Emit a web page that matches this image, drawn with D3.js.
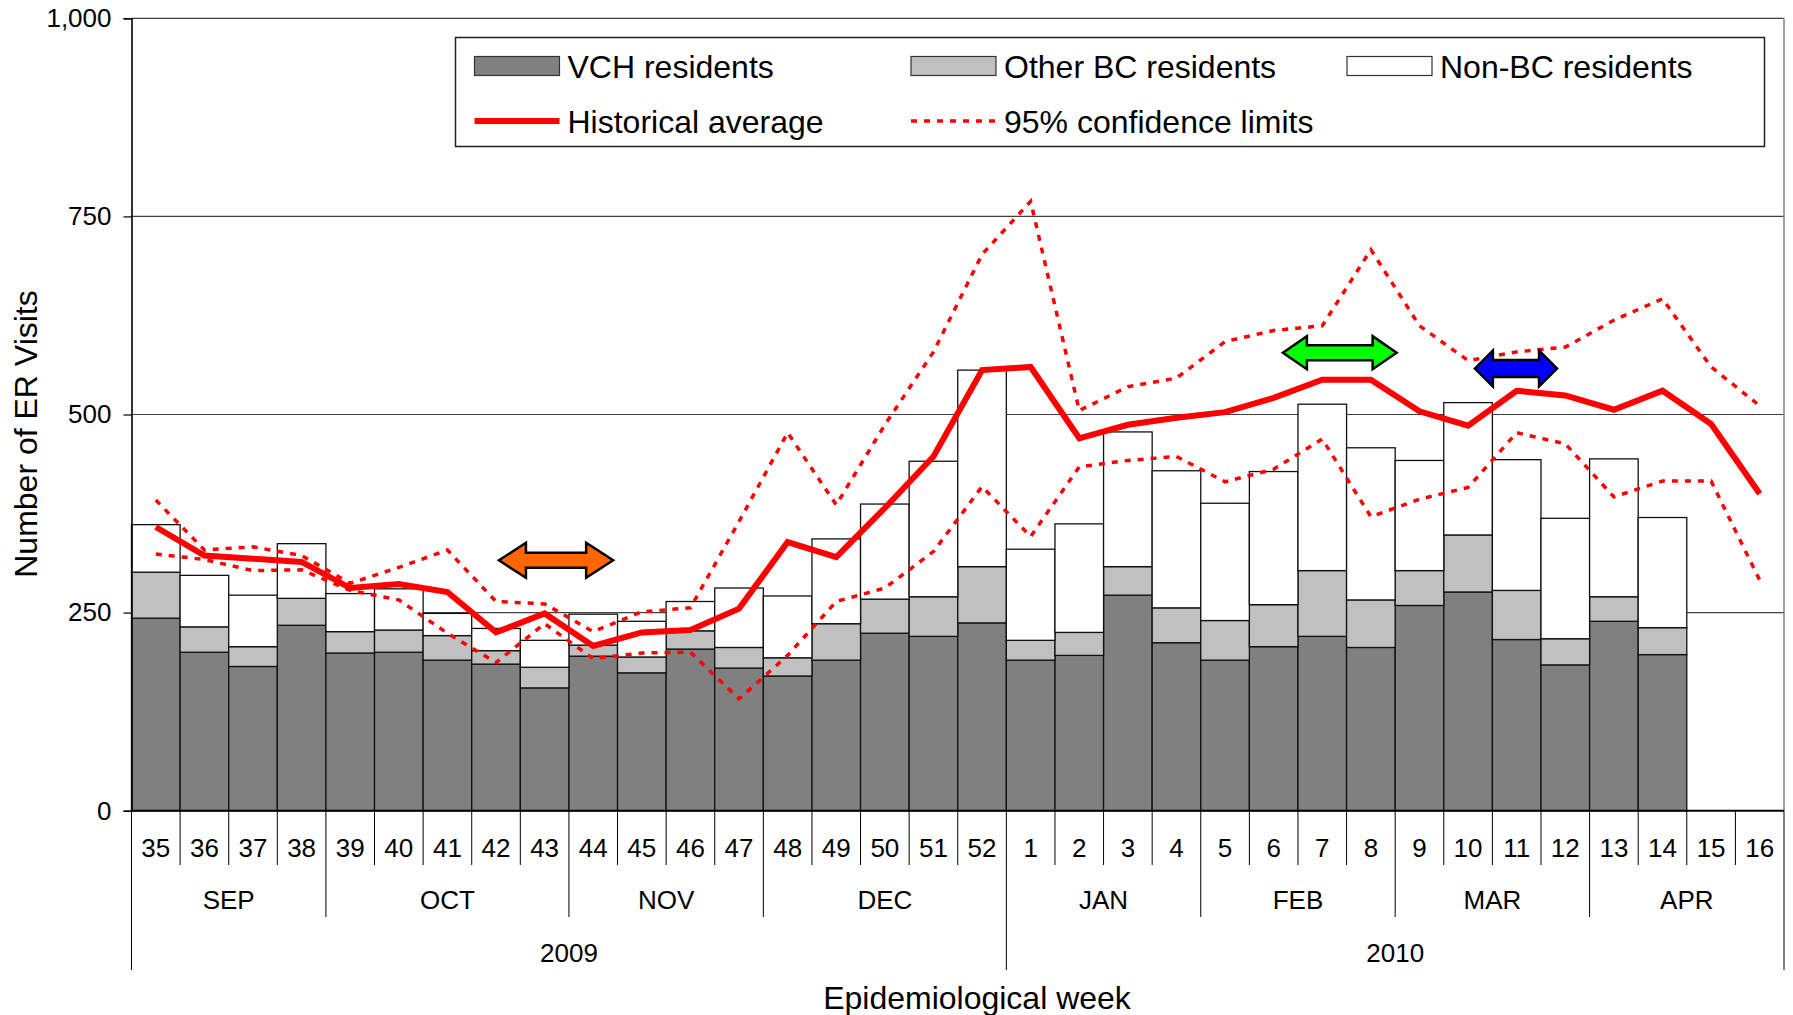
<!DOCTYPE html>
<html><head><meta charset="utf-8">
<script src="https://cdn.jsdelivr.net/npm/d3@7"></script>
<style>
body{margin:0;background:#fff}
text{font-family:"Liberation Sans",Arial,Helvetica,sans-serif;fill:#000}
</style>
</head><body>
<svg id="c" width="1793" height="1015"></svg>
<script>
// ---------- data ----------
const weeks = ["35","36","37","38","39","40","41","42","43","44","45","46","47","48","49","50","51","52",
               "1","2","3","4","5","6","7","8","9","10","11","12","13","14","15","16"];
const vchResidents = [243,200,182,234,199,200,190,185,155,195,174,204,180,170,190,224,220,237,
                      190,196,272,212,190,207,220,206,259,276,216,184,239,197,null,null];
const otherBCResidents = [58,32,25,34,27,28,31,17,26,14,20,23,26,23,46,43,50,71,
                          25,29,36,44,50,53,83,60,44,72,62,33,31,34,null,null];
const nonBCResidents = [60,65,65,69,48,52,28,28,34,39,45,37,75,78,107,120,171,248,
                        115,137,170,173,148,168,210,192,139,167,165,152,174,139,null,null];
const historicalAverage = [358,322,318,314,281,286,276,225,249,208,225,228,255,339,320,382,447,556,
                           560,470,487,496,503,521,544,544,504,486,530,524,506,530,488,400];
const upperLimit = [392,329,333,322,287,307,329,264,261,226,251,256,365,477,386,487,579,702,
                    769,505,535,546,592,606,612,708,612,568,579,585,619,646,560,511];
const lowerLimit = [324,317,303,304,278,266,224,187,236,192,199,200,141,196,264,281,327,409,
                    346,434,442,447,415,431,469,371,393,408,477,463,396,416,416,291];
const months = ["SEP","OCT","NOV","DEC","JAN","FEB","MAR","APR"];
const monthSpans = [4,5,4,5,4,4,4,4];
const years = ["2009","2010"];
const yearSpans = [18,16];
const yTicks = [0,250,500,750,1000];
// annotation arrows: start/end in week-band units, level in ER visits
const arrowNames = ["orange","green","blue"];
const arrowStart = [7.56,23.69,27.64];
const arrowEnd = [9.91,26.03,29.33];
const arrowLevel = [316,578,558];
const arrowColors = ["#FF6600","#00FF00","#0000FF"];
const arrowHead = [27,24,18];
const arrowHeight = [35,33,36];
const arrowShaft = [15,15,17];

// ---------- layout ----------
const L = 131.5, R = 1784, T = 18.3, B = 810.7;
const svg = d3.select("#c");

const x = d3.scaleBand().domain(d3.range(weeks.length)).range([L, R]).padding(0);
const xu = d3.scaleLinear().domain([0, weeks.length]).range([L, R]);
const y = d3.scaleLinear().domain([0, 1000]).range([B, T]);
const bw = x.bandwidth();
const cx = i => x(i) + bw / 2;

// gridlines
svg.append("g").selectAll("line").data(yTicks.filter(d => d > 0)).join("line")
  .attr("x1", L).attr("x2", R).attr("y1", d => y(d)).attr("y2", d => y(d))
  .attr("stroke", "#404040").attr("stroke-width", 1.2);

// stacked bars
const rows = weeks.map((w, i) => ({i, vch: vchResidents[i], other: otherBCResidents[i], non: nonBCResidents[i]}))
  .filter(r => r.vch != null);
const keys = ["vch", "other", "non"];
const fills = {vch: "#808080", other: "#C0C0C0", non: "#FFFFFF"};
const stacked = d3.stack().keys(keys)(rows);
svg.append("g").selectAll("g").data(stacked).join("g")
  .attr("fill", d => fills[d.key])
  .selectAll("rect").data(d => d).join("rect")
  .attr("x", d => x(d.data.i)).attr("width", bw)
  .attr("y", d => y(d[1])).attr("height", d => y(d[0]) - y(d[1]))
  .attr("stroke", "#111").attr("stroke-width", 1.3);

// right border of plot area
svg.append("line").attr("x1", R).attr("x2", R).attr("y1", T).attr("y2", B)
  .attr("stroke", "#808080").attr("stroke-width", 1.5);

// y axis
const yAxis = d3.axisLeft(y).tickValues(yTicks).tickFormat(d3.format(",")).tickSize(8).tickPadding(12);
const gy = svg.append("g").attr("transform", `translate(${L},0)`).call(yAxis);
gy.select(".domain").attr("stroke", "#000").attr("stroke-width", 1.6);
gy.selectAll(".tick line").attr("stroke", "#000").attr("stroke-width", 1.2);
gy.selectAll(".tick text").attr("font-size", 26).attr("font-family", "Liberation Sans, Arial, sans-serif").attr("fill", "#000");

// x baseline
svg.append("line").attr("x1", L).attr("x2", R).attr("y1", B).attr("y2", B)
  .attr("stroke", "#000").attr("stroke-width", 2);

// multi-level category axis
const gx = svg.append("g");
const monthBounds = [0, ...d3.cumsum(monthSpans)];
const yearBounds = [0, ...d3.cumsum(yearSpans)];
const weekRowY = 865, monthRowY = 917, yearRowY = 970;
d3.range(weeks.length + 1).forEach(k => {
  let yEnd = weekRowY;
  if (monthBounds.includes(k)) yEnd = monthRowY;
  if (yearBounds.includes(k)) yEnd = yearRowY;
  gx.append("line").attr("x1", xu(k)).attr("x2", xu(k)).attr("y1", B).attr("y2", yEnd)
    .attr("stroke", "#000").attr("stroke-width", 1);
});
gx.selectAll("text.wk").data(weeks).join("text").attr("class", "wk")
  .attr("x", (d, i) => cx(i)).attr("y", 848).attr("dy", "0.36em")
  .attr("text-anchor", "middle").attr("font-size", 26).text(d => d);
gx.selectAll("text.mo").data(months).join("text").attr("class", "mo")
  .attr("x", (d, i) => (xu(monthBounds[i]) + xu(monthBounds[i + 1])) / 2).attr("y", 900).attr("dy", "0.36em")
  .attr("text-anchor", "middle").attr("font-size", 26).text(d => d);
gx.selectAll("text.yr").data(years).join("text").attr("class", "yr")
  .attr("x", (d, i) => (xu(yearBounds[i]) + xu(yearBounds[i + 1])) / 2).attr("y", 953).attr("dy", "0.36em")
  .attr("text-anchor", "middle").attr("font-size", 26).text(d => d);

// axis titles
svg.append("text").attr("x", 977).attr("y", 997).attr("dy", "0.36em").attr("text-anchor", "middle")
  .attr("font-size", 32).text("Epidemiological week");
svg.append("text").attr("transform", "translate(25,434) rotate(-90)").attr("dy", "0.36em")
  .attr("text-anchor", "middle").attr("font-size", 32).text("Number of ER Visits");

// lines
const lineGen = d3.line().x((d, i) => cx(i)).y(d => y(d));
[upperLimit, lowerLimit].forEach(arr => {
  svg.append("path").datum(arr).attr("d", lineGen).attr("fill", "none")
    .attr("stroke", "#FF0000").attr("stroke-width", 3.5).attr("stroke-dasharray", "6,7");
});
svg.append("path").datum(historicalAverage).attr("d", lineGen).attr("fill", "none")
  .attr("stroke", "#FF0000").attr("stroke-width", 6).attr("stroke-linejoin", "miter");

// arrows
arrowNames.forEach((n, k) => {
  const x0 = xu(arrowStart[k]), x1 = xu(arrowEnd[k]), yc = y(arrowLevel[k]);
  const h = arrowHead[k], H = arrowHeight[k] / 2, s = arrowShaft[k] / 2;
  const pts = [[x0, yc], [x0 + h, yc - H], [x0 + h, yc - s], [x1 - h, yc - s], [x1 - h, yc - H],
               [x1, yc], [x1 - h, yc + H], [x1 - h, yc + s], [x0 + h, yc + s], [x0 + h, yc + H]];
  svg.append("path").attr("d", "M" + pts.map(p => p.join(",")).join("L") + "Z")
    .attr("fill", arrowColors[k]).attr("stroke", "#000").attr("stroke-width", 2.5).attr("stroke-linejoin", "miter");
});

// legend
const lg = svg.append("g");
lg.append("rect").attr("x", 455.5).attr("y", 37.5).attr("width", 1309).attr("height", 109)
  .attr("fill", "#fff").attr("stroke", "#222").attr("stroke-width", 1.5);
const legItems = [
  {label: "VCH residents", type: "rect", fill: fills.vch, col: 0, row: 0},
  {label: "Other BC residents", type: "rect", fill: fills.other, col: 1, row: 0},
  {label: "Non-BC residents", type: "rect", fill: fills.non, col: 2, row: 0},
  {label: "Historical average", type: "solid", col: 0, row: 1},
  {label: "95% confidence limits", type: "dot", col: 1, row: 1}
];
const colX = [474.5, 911, 1347], rowY = [66, 121];
legItems.forEach(it => {
  const sx = colX[it.col], sy = rowY[it.row];
  if (it.type === "rect") {
    lg.append("rect").attr("x", sx).attr("y", sy - 9.5).attr("width", 85).attr("height", 19)
      .attr("fill", it.fill).attr("stroke", "#333").attr("stroke-width", 1.2);
  } else {
    lg.append("line").attr("x1", sx).attr("x2", sx + 85).attr("y1", sy).attr("y2", sy)
      .attr("stroke", "#FF0000").attr("stroke-width", it.type === "solid" ? 6 : 3.5)
      .attr("stroke-dasharray", it.type === "dot" ? "6,7" : null);
  }
  lg.append("text").attr("x", sx + 93).attr("y", sy).attr("dy", "0.36em").attr("font-size", 32).text(it.label);
});
</script>
</body></html>
